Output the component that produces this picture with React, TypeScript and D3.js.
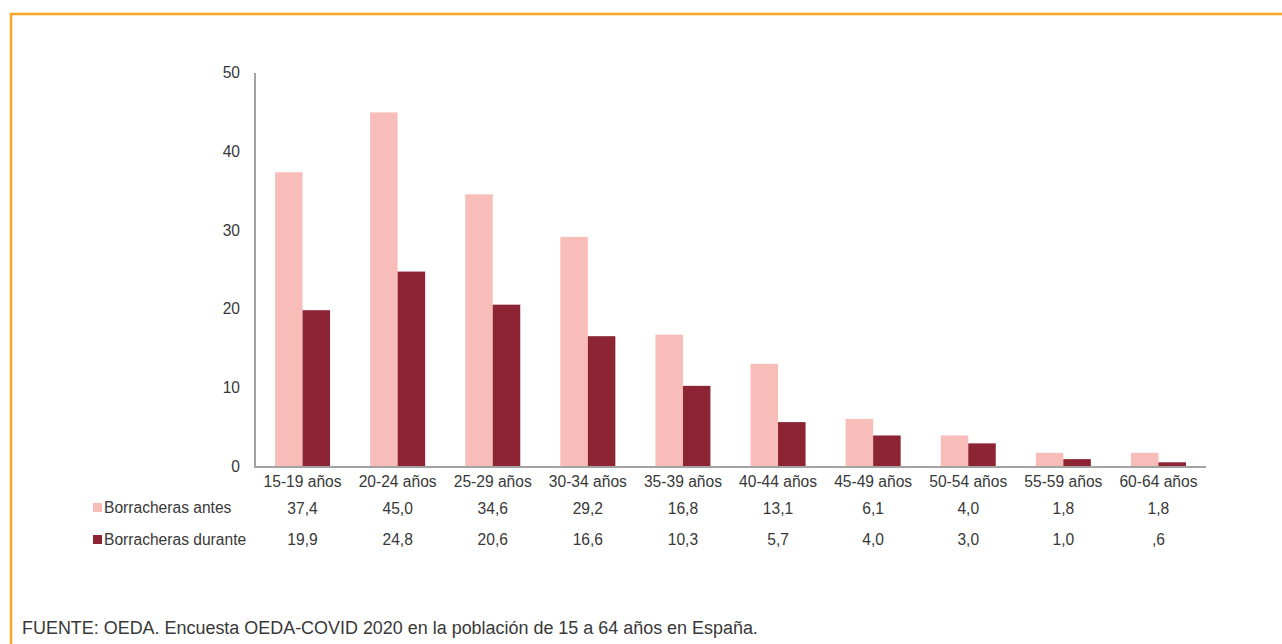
import React from "react";
import * as d3 from "d3";

const categories = ["15-19 años", "20-24 años", "25-29 años", "30-34 años", "35-39 años", "40-44 años", "45-49 años", "50-54 años", "55-59 años", "60-64 años"];
const antes = [37.4, 45.0, 34.6, 29.2, 16.8, 13.1, 6.1, 4.0, 1.8, 1.8];
const durante = [19.9, 24.8, 20.6, 16.6, 10.3, 5.7, 4.0, 3.0, 1.0, 0.6];
const antesLabels = ["37,4", "45,0", "34,6", "29,2", "16,8", "13,1", "6,1", "4,0", "1,8", "1,8"];
const duranteLabels = ["19,9", "24,8", "20,6", "16,6", "10,3", "5,7", "4,0", "3,0", "1,0", ",6"];
const yTicks = [0, 10, 20, 30, 40, 50];
const seriesNames = ["Borracheras antes", "Borracheras durante"];
const colors = ["#F8BDB9", "#8C2433"];
const source = "FUENTE: OEDA. Encuesta OEDA-COVID 2020 en la población de 15 a 64 años en España.";

export default function App() {
  const W = 1282, H = 644;
  const x0 = 255, x1 = 1206, yTop = 73, yBase = 467;
  const x = d3.scaleBand<string>().domain(categories).range([x0, x1]);
  const y = d3.scaleLinear().domain([0, 50]).range([yBase, yTop]);
  const bw = 27.5;
  const font = "'Liberation Sans', Arial, Helvetica, sans-serif";
  const txt = "#383838";
  const fs = 15.6;
  return (
    <svg width={W} height={H} style={{ position: "absolute", left: 0, top: 0, display: "block", background: "#fff" }} fontFamily={font}>
      <rect x={11} y={14} width={W + 20} height={H + 20} fill="none" stroke="#F6A623" strokeWidth={2.5} />
      {categories.map((c, i) => {
        const cx = (x(c) as number) + x.bandwidth() / 2;
        return (
          <g key={c}>
            <rect x={cx - bw} y={y(antes[i])} width={bw} height={yBase - y(antes[i])} fill={colors[0]} />
            <rect x={cx} y={y(durante[i])} width={bw} height={yBase - y(durante[i])} fill={colors[1]} />
            <text x={cx} y={487} textAnchor="middle" fontSize={fs} fill={txt}>{c}</text>
            <text x={cx} y={514} textAnchor="middle" fontSize={fs} fill={txt}>{antesLabels[i]}</text>
            <text x={cx} y={545} textAnchor="middle" fontSize={fs} fill={txt}>{duranteLabels[i]}</text>
          </g>
        );
      })}
      <line x1={x0} x2={x0} y1={yTop} y2={yBase} stroke="#A3A3A3" strokeWidth={2} />
      <line x1={x0 - 1} x2={x1} y1={yBase} y2={yBase} stroke="#A3A3A3" strokeWidth={2} />
      {yTicks.map(t => (
        <text key={t} x={240} y={y(t) + 5} textAnchor="end" fontSize={fs} fill={txt}>{t}</text>
      ))}
      {seriesNames.map((s, i) => (
        <g key={s}>
          <rect x={93} y={503 + i * 32} width={9} height={9} fill={colors[i]} />
          <text x={104} y={513 + i * 32} fontSize={fs} fill={txt}>{s}</text>
        </g>
      ))}
      <text x={22} y={634} fontSize={17.95} fill={txt}>{source}</text>
    </svg>
  );
}
